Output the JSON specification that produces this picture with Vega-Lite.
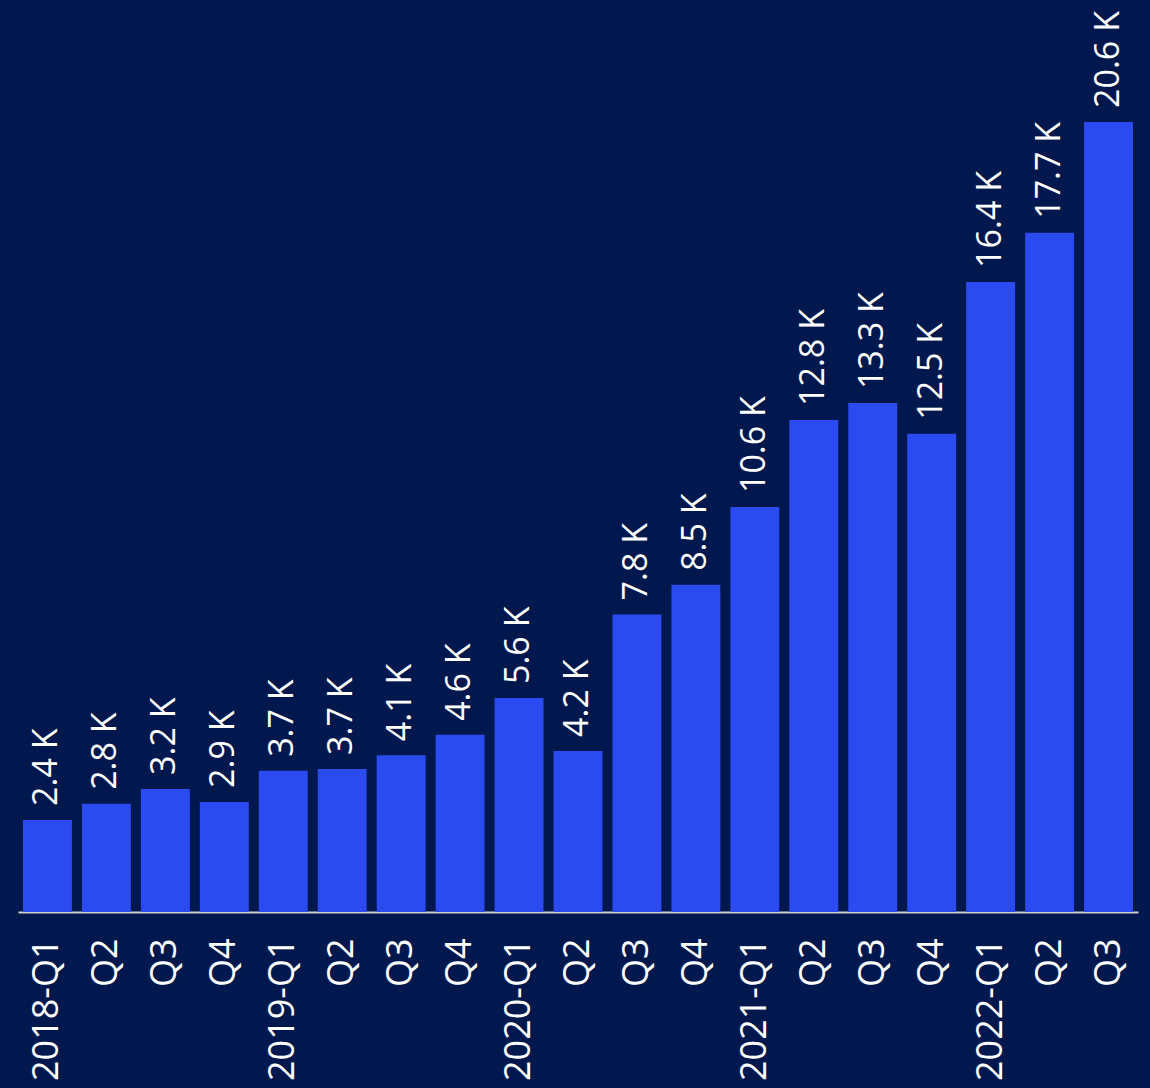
{
  "$schema": "https://vega.github.io/schema/vega-lite/v6.json",
  "autosize": "none",
  "width": 1120,
  "height": 912,
  "padding": {"left": 18, "top": 0, "right": 12, "bottom": 176},
  "background": "#00184d",
  "config": {"view": {"stroke": null}, "font": "Open Sans"},
  "data": {"values": [
    {"q": "2018-Q1", "v": 2400},
    {"q": "2018-Q2", "v": 2820},
    {"q": "2018-Q3", "v": 3210},
    {"q": "2018-Q4", "v": 2870},
    {"q": "2019-Q1", "v": 3680},
    {"q": "2019-Q2", "v": 3730},
    {"q": "2019-Q3", "v": 4090},
    {"q": "2019-Q4", "v": 4620},
    {"q": "2020-Q1", "v": 5580},
    {"q": "2020-Q2", "v": 4200},
    {"q": "2020-Q3", "v": 7760},
    {"q": "2020-Q4", "v": 8530},
    {"q": "2021-Q1", "v": 10560},
    {"q": "2021-Q2", "v": 12830},
    {"q": "2021-Q3", "v": 13270},
    {"q": "2021-Q4", "v": 12470},
    {"q": "2022-Q1", "v": 16430},
    {"q": "2022-Q2", "v": 17710},
    {"q": "2022-Q3", "v": 20600}
  ]},
  "transform": [
    {"calculate": "format(datum.v / 1000, '.1f') + ' K'", "as": "lbl"}
  ],
  "encoding": {
    "x": {
      "field": "q", "type": "nominal", "sort": null,
      "scale": {"paddingInner": 0.17, "paddingOuter": 0.085},
      "axis": {
        "title": null,
        "labelExpr": "slice(datum.value, 5, 7) == 'Q1' ? datum.value : slice(datum.value, 5, 7)",
        "labelAngle": -90,
        "labelAlign": "right",
        "labelBaseline": "middle",
        "labelFontSize": 36,
        "labelColor": "#ffffff",
        "labelPadding": 26,
        "labelOverlap": false,
        "labelBound": false,
        "labelFlush": false,
        "ticks": false,
        "domainColor": "#d0d0d0",
        "domainWidth": 2
      }
    },
    "y": {
      "field": "v", "type": "quantitative",
      "scale": {"domain": [0, 23780], "nice": false},
      "axis": null
    }
  },
  "layer": [
    {"mark": {"type": "bar", "color": "#2b4af0"}},
    {
      "mark": {"type": "text", "angle": -90, "align": "left", "baseline": "middle", "dx": 14, "fontSize": 34, "color": "#ffffff"},
      "encoding": {"text": {"field": "lbl"}}
    }
  ]
}
